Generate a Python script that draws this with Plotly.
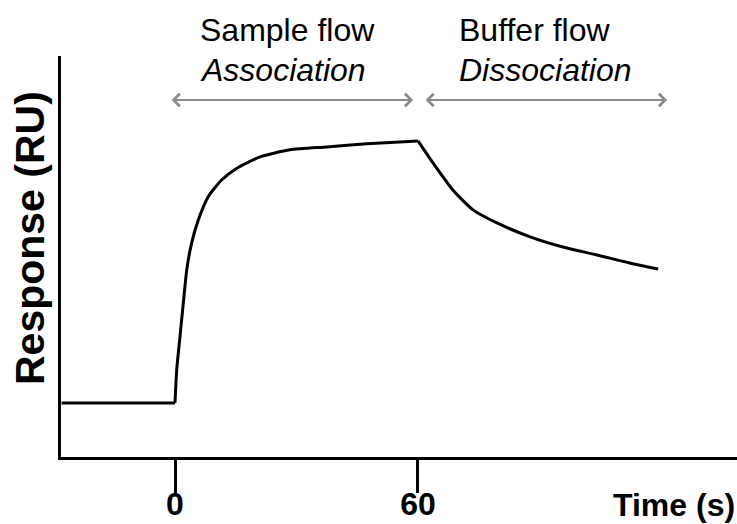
import plotly.graph_objects as go

# ---- data (time in s, response in arbitrary RU) ----
baseline_t = [-28, 0]
baseline_ru = [0, 0]

assoc_t = [0, 0.42, 1.23, 2.05, 2.9, 4.1, 5.75, 8.2, 11.5, 15.2, 21.0, 28.4, 37.5, 47.4, 60]
assoc_ru = [0, 12.6, 25.3, 38.1, 50.8, 61.0, 69.8, 78.7, 85.1, 89.5, 93.9, 96.6, 97.7, 98.9, 100]

dissoc_t = [60, 63.7, 68.6, 73.6, 79.5, 87.7, 95.8, 104.2, 112.3, 119.3]
dissoc_ru = [100, 91.6, 81.3, 73.7, 68.7, 63.4, 59.5, 56.5, 53.4, 51.1]

tick_vals = [0, 60]
tick_text = ["0", "60"]

phase_labels = [("Sample flow", "Association"), ("Buffer flow", "Dissociation")]
phase_label_t = [5.6, 69.6]
phase_arrow_start = [-1.2, 61.5]
phase_arrow_end = [58.8, 121.5]
arrow_level = 115.6

x_range = [-28.15, 138.77]
y_range = [-20.6, 132.4]

FONT = "Liberation Sans, Arial, Helvetica, sans-serif"

fig = go.Figure()
line_style = dict(color="black", width=3)
fig.add_trace(go.Scatter(x=baseline_t, y=baseline_ru, mode="lines", line=line_style,
                         hoverinfo="skip", showlegend=False))
fig.add_trace(go.Scatter(x=assoc_t, y=assoc_ru, mode="lines",
                         line=dict(color="black", width=3, shape="spline", smoothing=0.6),
                         hoverinfo="skip", showlegend=False))
fig.add_trace(go.Scatter(x=dissoc_t, y=dissoc_ru, mode="lines",
                         line=dict(color="black", width=3, shape="spline", smoothing=0.6),
                         hoverinfo="skip", showlegend=False))

annotations = []
for (l1, l2), tx, a0, a1 in zip(phase_labels, phase_label_t, phase_arrow_start, phase_arrow_end):
    annotations.append(dict(x=tx, y=arrow_level, xref="x", yref="y", text="<i>" + l2 + "</i>",
                            showarrow=False, xanchor="left", yanchor="bottom", yshift=10,
                            font=dict(family=FONT, size=32, color="black")))
    annotations.append(dict(x=tx, y=arrow_level, xref="x", yref="y", text=l1,
                            showarrow=False, xanchor="left", yanchor="bottom", yshift=50,
                            font=dict(family=FONT, size=32, color="black")))
    annotations.append(dict(x=a1, y=arrow_level, ax=a0, ay=arrow_level,
                            xref="x", yref="y", axref="x", ayref="y", text="",
                            showarrow=True, arrowhead=4, startarrowhead=4,
                            arrowside="end+start", arrowwidth=2, arrowsize=1.2,
                            startarrowsize=1.2, arrowcolor="#8a8a8a",
                            standoff=0, startstandoff=0))

annotations.append(dict(x=-0.045, y=0.545, xref="paper", yref="paper",
                        text="<b>Response (RU)</b>", textangle=-90, showarrow=False,
                        xanchor="center", yanchor="middle",
                        font=dict(family=FONT, size=41, color="black")))
annotations.append(dict(x=1.0, y=-0.12, xref="paper", yref="paper",
                        text="<b>Time (s)</b>", showarrow=False,
                        xanchor="right", yanchor="middle",
                        font=dict(family=FONT, size=32, color="black")))

fig.update_layout(
    width=737, height=524,
    margin=dict(l=61, r=0, t=56, b=67, autoexpand=False),
    paper_bgcolor="white", plot_bgcolor="white",
    annotations=annotations,
    xaxis=dict(range=x_range, showgrid=False, zeroline=False, showline=True,
               automargin=False,
               linecolor="black", linewidth=3, ticks="outside", ticklen=33,
               tickwidth=3, tickcolor="black", tickvals=tick_vals, ticktext=tick_text,
               ticklabelstandoff=-16,
               tickfont=dict(family=FONT, size=32, color="black", weight="bold")),
    yaxis=dict(range=y_range, showgrid=False, zeroline=False, showline=True,
               automargin=False,
               linecolor="black", linewidth=3, showticklabels=False, ticks=""),
)

fig.write_html("out.html")
